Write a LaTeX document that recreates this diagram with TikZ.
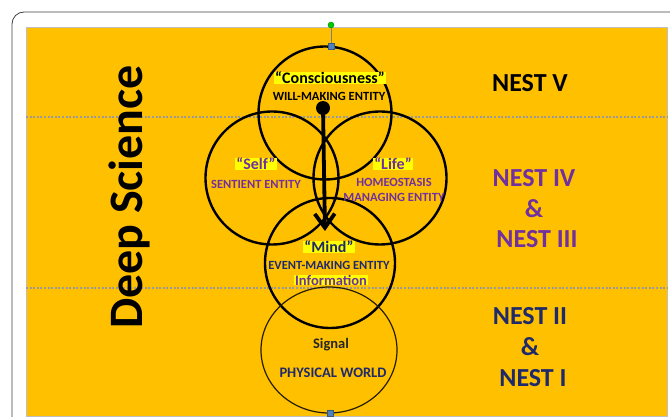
\documentclass[tikz,border=0pt]{standalone}
\usepackage{fontspec}
\setmainfont{Carlito}
\usetikzlibrary{arrows.meta,shapes.geometric}
\definecolor{gold}{HTML}{FFC000}
\definecolor{purp}{HTML}{7030A0}
\definecolor{navy}{HTML}{1F2A6B}
\definecolor{hl}{HTML}{FFFF00}
\definecolor{dotgray}{HTML}{9A9A9A}
\definecolor{handleblue}{HTML}{4F81BD}
\begin{document}
\begin{tikzpicture}[x=1pt,y=-1pt,
  ring/.style={draw=black, line width=2.4pt, circle, minimum size=133pt, inner sep=0pt},
  thinring/.style={draw=black!85!gold, line width=1.2pt, ellipse, minimum width=136pt, minimum height=126pt, inner sep=0pt},
  sep/.style={draw=dotgray, line width=1.3pt, dash pattern=on 2pt off 1.6pt},
  title/.style={font=\bfseries\fontsize{16}{18}\selectfont, fill=hl, inner xsep=1pt, inner ysep=0.3pt},
  small/.style={font=\bfseries\fontsize{12.5}{14}\selectfont, inner sep=0pt},
  mid/.style={font=\bfseries\fontsize{14.5}{16}\selectfont, inner sep=0pt},
  nest/.style={font=\bfseries\fontsize{26}{28}\selectfont, inner sep=0pt},
  handle/.style={draw=handleblue!70!black, fill=handleblue, minimum size=6pt, inner sep=0pt, line width=0.4pt}
]
\useasboundingbox (0,0) rectangle (670,417);
\fill[white] (0,0) rectangle (670,417);
% frame
\draw[black!75, line width=0.8pt, rounded corners=12pt] (12,12) rectangle (690,440);
% background
\fill[gold] (26,27) rectangle (667,416);
\draw[black!25, line width=0.5pt] (26,27) rectangle (667,416);
% separators
\coordinate (s1l) at (26,117); \coordinate (s1r) at (667,117);
\coordinate (s2l) at (26,288); \coordinate (s2r) at (667,288);
\draw[sep] (s1l) -- (s1r);
\draw[sep] (s2l) -- (s2r);
% circles
\node[ring] (cons) at (325,113) {};
\node[ring] (self) at (272,178) {};
\node[ring] (life) at (380,178) {};
\node[ring, minimum size=130pt] (mind) at (330,263) {};
\node[thinring] (phys) at (329,350) {};
% handles
\node[handle] (htop) at (331,46) {};
\node[handle] (hbot) at (330,413) {};
\node[circle, draw=green!50!black, fill=green!80!black, minimum size=6pt, inner sep=0pt] (hrot) at (331,25) {};
\draw[black!50, line width=0.6pt] (hrot) -- (htop);
% texts
\node[title] (tcons) at (330,78) {“Consciousness”};
\node[small] (tcons2) at (329,96) {WILL-MAKING ENTITY};
\node[title, text=purp] (tself) at (256,164) {“Self”};
\node[small, text=purp] (tself2) at (256,184) {SENTIENT ENTITY};
\node[title, text=purp] (tlife) at (393,164) {“Life”};
\node[small, text=purp, align=center] (tlife2) at (394,190) {HOMEOSTASIS\\[1pt]MANAGING ENTITY};
\node[title, text=navy] (tmind) at (329,247) {“Mind”};
\node[small, text=navy] (tmind2) at (329,265) {EVENT-MAKING ENTITY};
\node[mid, text=purp, fill=hl, inner xsep=1pt, inner ysep=0.3pt] (tinfo) at (331,280) {Information};
\node[mid, text=black!85] (tsig) at (331,345) {Signal};
\node[mid, text=navy] (tphys) at (333,373) {PHYSICAL WORLD};
% nests
\node[nest] (n5) at (530,83) {NEST V};
\node[nest, text=purp] (n4) at (534,178) {NEST IV};
\node[nest, text=purp] (a1) at (534,209) {\&};
\node[nest, text=purp] (n3) at (537,239) {NEST III};
\node[nest, text=navy] (n2) at (530,316) {NEST II};
\node[nest, text=navy] (a2) at (530,347) {\&};
\node[nest, text=navy] (n1) at (533,378) {NEST I};
% title
\node[font=\bfseries\fontsize{48}{50}\selectfont, rotate=90, inner sep=0pt] (deep) at (129,197) {Deep Science};
% arrow
\node[circle, fill=black, minimum size=14pt, inner sep=0pt] (dot) at (323,108) {};
\coordinate (tip) at (325,231);
\draw[line width=3.8pt, -{Straight Barb[length=14pt, width=20pt]}] (dot.center) -- (tip);
\end{tikzpicture}
\end{document}
